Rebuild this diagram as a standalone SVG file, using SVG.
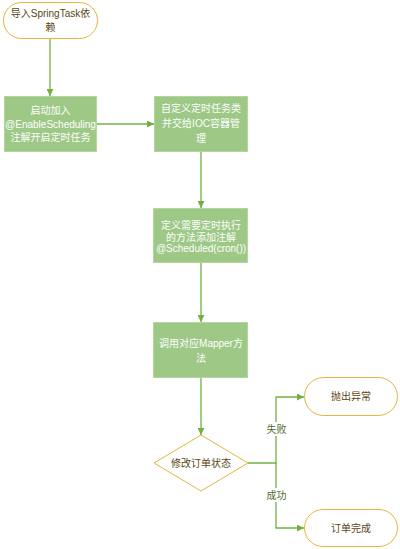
<svg xmlns="http://www.w3.org/2000/svg" width="400" height="549" viewBox="0 0 400 549">
<style>
text{font-family:"Liberation Sans","Noto Sans CJK SC",sans-serif;font-size:10px;text-anchor:middle}
.term{fill:#ffffff;stroke:#e6b43c;stroke-width:1}
.box{fill:#9dc886;stroke:#b2d69c;stroke-width:1}
.dia{fill:#ffffff;stroke:#e6b43c;stroke-width:1}
.wt{fill:#ffffff}
.dk{fill:#5a4614}
.lbl{fill:#4e6a2c}
.ln{fill:none;stroke:#72b043;stroke-width:1.3}
</style>
<defs>
<marker id="ah" viewBox="0 0 10 10" refX="10" refY="5" markerWidth="7" markerHeight="7" markerUnits="userSpaceOnUse" orient="auto">
<path d="M0,0 L10,5 L0,10 z" fill="#72b043"/>
</marker>
</defs>
<g id="connectors">
<path class="ln" d="M50,39 L50,96" marker-end="url(#ah)"/>
<path class="ln" d="M97,124 L154,124" marker-end="url(#ah)"/>
<path class="ln" d="M201,152 L201,208" marker-end="url(#ah)"/>
<path class="ln" d="M201,263 L201,322" marker-end="url(#ah)"/>
<path class="ln" d="M201,378 L201,435" marker-end="url(#ah)"/>
<path class="ln" d="M248,463 L276,463 L276,397 L304,397" marker-end="url(#ah)"/>
<path class="ln" d="M276,463 L276,528 L304,528" marker-end="url(#ah)"/>
<rect x="265" y="422" width="22" height="14" fill="#ffffff"/>
<text class="lbl" x="276.5" y="433">失败</text>
<rect x="265" y="488" width="22" height="14" fill="#ffffff"/>
<text class="lbl" x="276.5" y="499">成功</text>
</g>
<g id="start">
<rect class="term" x="3.5" y="2.5" width="94" height="36" rx="18" ry="18"/>
<text class="dk" x="50.5" y="17">导入SpringTask依</text>
<text class="dk" x="50.5" y="31">赖</text>
</g>
<g id="enable">
<rect class="box" x="4.5" y="96.5" width="92" height="55"/>
<text class="wt" x="50.5" y="114">启动加入</text>
<text class="wt" x="50.5" y="127.5">@EnableScheduling</text>
<text class="wt" x="50.5" y="141">注解开启定时任务</text>
</g>
<g id="taskclass">
<rect class="box" x="154.5" y="96.5" width="93" height="55"/>
<text class="wt" x="201" y="112">自定义定时任务类</text>
<text class="wt" x="201" y="127">并交给IOC容器管</text>
<text class="wt" x="201" y="142">理</text>
</g>
<g id="scheduled">
<rect class="box" x="153.5" y="208.5" width="94" height="54"/>
<text class="wt" x="201" y="228.5">定义需要定时执行</text>
<text class="wt" x="201" y="240.5">的方法添加注解</text>
<text class="wt" x="201" y="252">@Scheduled(cron())</text>
</g>
<g id="mapper">
<rect class="box" x="153.5" y="322.5" width="94" height="55"/>
<text class="wt" x="201" y="347">调用对应Mapper方</text>
<text class="wt" x="201" y="361.5">法</text>
</g>
<g id="update">
<path class="dia" d="M201,435 L248,463 L201,491 L154,463 z"/>
<text class="dk" x="201" y="467">修改订单状态</text>
</g>
<g id="exception">
<rect class="term" x="304.5" y="377.5" width="93" height="38" rx="19" ry="19"/>
<text class="dk" x="351" y="400">抛出异常</text>
</g>
<g id="done">
<rect class="term" x="304.5" y="509.5" width="93" height="37" rx="18.5" ry="18.5"/>
<text class="dk" x="351" y="532">订单完成</text>
</g>
</svg>
